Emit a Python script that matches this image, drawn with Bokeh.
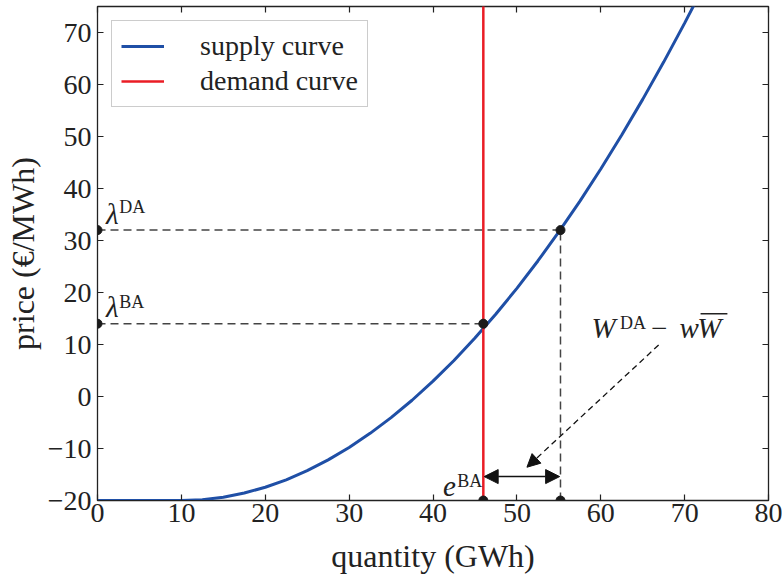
from bokeh.plotting import figure
from bokeh.models import (Range1d, LinearAxis, FixedTicker, Label, Arrow, NormalHead, Legend)
from bokeh.embed import file_html
from bokeh.resources import INLINE

# ---- data ----
supply_q = [0, 2.5, 5, 7.5, 10, 12.5, 15, 17.5, 20, 22.5, 25, 27.5, 30, 32.5, 35, 37.5,
            40, 42.5, 45, 47.5, 50, 52.5, 55, 57.5, 60, 62.5, 65, 67.5, 70, 72.5]
supply_p = [-20, -20, -20, -20, -20, -19.84, -19.36, -18.57, -17.45, -16.02, -14.26, -12.19,
            -9.8, -7.09, -4.06, -0.72, 2.95, 6.93, 11.24, 15.86, 20.8, 26.06, 31.64, 37.53,
            43.75, 50.28, 57.14, 64.31, 71.8, 79.6]
demand_q = [46.0, 46.0]
demand_p = [-25, 80]

q_BA = 46.0     # balancing quantity
q_DA = 55.2     # day-ahead quantity
lam_DA = 32.0   # day-ahead price
lam_BA = 14.0   # balancing price
p_min = -20.0

x_ticks = [0, 10, 20, 30, 40, 50, 60, 70, 80]
y_ticks = [-20, -10, 0, 10, 20, 30, 40, 50, 60, 70]

FONT = "Liberation Serif"
TXT = "#222222"

p = figure(width=782, height=576, output_backend="svg", toolbar_location=None,
           x_range=Range1d(0, 80), y_range=Range1d(-20, 75),
           min_border_left=97, min_border_right=14, min_border_top=6, min_border_bottom=76)
p.grid.visible = False
p.outline_line_color = "#222222"
p.outline_line_width = 1.3
p.background_fill_color = "white"
p.border_fill_color = "white"

for ax in (p.xaxis[0], p.yaxis[0]):
    ax.major_label_text_font = FONT
    ax.major_label_text_font_size = "28px"
    ax.major_label_text_color = TXT
    ax.axis_label_text_font = FONT
    ax.axis_label_text_font_size = "32px"
    ax.axis_label_text_font_style = "normal"
    ax.axis_label_text_color = TXT
    ax.major_tick_in = 6
    ax.major_tick_out = 0
    ax.minor_tick_line_color = None
    ax.axis_line_color = "#222222"
    ax.major_tick_line_color = "#222222"
    ax.major_tick_line_width = 1.2

p.xaxis[0].ticker = FixedTicker(ticks=x_ticks)
p.yaxis[0].ticker = FixedTicker(ticks=y_ticks)
p.xaxis[0].axis_label = "quantity (GWh)"
p.yaxis[0].axis_label = "price (€/MWh)"
p.xaxis[0].major_label_standoff = 3
p.xaxis[0].major_label_text_line_height = 0.9
p.xaxis[0].axis_label_text_line_height = 0.7
p.xaxis[0].axis_label_standoff = 13
p.yaxis[0].major_label_standoff = 6
p.yaxis[0].axis_label_standoff = 4

for loc, tk in (("right", y_ticks), ("above", x_ticks)):
    ax = LinearAxis(ticker=FixedTicker(ticks=tk))
    ax.major_label_overrides = {t: "" for t in tk}
    ax.major_label_text_font_size = "1px"
    ax.major_label_standoff = 0
    ax.major_tick_in = 6
    ax.major_tick_out = 0
    ax.minor_tick_line_color = None
    ax.axis_line_color = None
    ax.major_tick_line_color = "#222222"
    ax.major_tick_line_width = 1.2
    p.add_layout(ax, loc)

DASH = "#444444"
# dashed guides
p.line([0, q_DA], [lam_DA, lam_DA], line_dash="8 5", line_color=DASH, line_width=1.5)
p.line([0, q_BA], [lam_BA, lam_BA], line_dash="8 5", line_color=DASH, line_width=1.5)
p.line([q_DA, q_DA], [p_min, lam_DA], line_dash="8 5", line_color=DASH, line_width=1.5)

r_sup = p.line(supply_q, supply_p, line_color="#1f4fa6", line_width=3)
r_dem = p.line(demand_q, demand_p, line_color="#ea1d25", line_width=2.5)

p.scatter([q_BA, q_DA, 0, 0, q_BA, q_DA], [lam_BA, lam_DA, lam_DA, lam_BA, p_min, p_min],
          size=9, color="#1a1a1a")

# double arrow e^BA
p.add_layout(Arrow(start=NormalHead(size=14, fill_color="#111111", line_color="#111111"),
                   end=NormalHead(size=14, fill_color="#111111", line_color="#111111"),
                   x_start=q_BA + 0.1, y_start=-15.4, x_end=q_DA - 0.1, y_end=-15.4,
                   line_color="#111111", line_width=1.5))
# dashed pointer arrow
p.add_layout(Arrow(end=NormalHead(size=13, fill_color="#111111", line_color="#111111"),
                   x_start=66.9, y_start=9.9, x_end=51.2, y_end=-13.6,
                   line_color="#111111", line_width=1.3, line_dash="6 4"))


def lab(x, y, t, size, italic=False):
    p.add_layout(Label(x=x, y=y, text=t, text_font=FONT, text_font_size=size,
                       text_color=TXT, text_baseline="middle",
                       text_font_style="italic" if italic else "normal"))


lab(1.0, 35.1, "λ", "29px", True)
lab(2.6, 36.4, "DA", "18px")
lab(1.0, 17.2, "λ", "29px", True)
lab(2.6, 18.25, "BA", "18px")
lab(41.2, -17.3, "e", "29px", True)
lab(42.9, -16.2, "BA", "18px")
lab(58.9, 13.15, "W", "29px", True)
lab(62.3, 14.2, "DA", "18px")
lab(66.0, 13.15, "−", "29px")
lab(69.4, 13.15, "w", "29px", True)
lab(71.5, 13.15, "W", "29px", True)
p.segment(x0=[71.9], y0=[15.9], x1=[75.1], y1=[15.9], line_color=TXT, line_width=1.6)

legend = Legend(items=[("supply curve", [r_sup]), ("demand curve", [r_dem])],
                location="top_left")
legend.label_text_font = FONT
legend.label_text_font_size = "28px"
legend.label_text_color = TXT
legend.glyph_width = 43
legend.glyph_height = 22
legend.label_height = 22
legend.label_standoff = 36
legend.spacing = 3
legend.padding = 9
legend.margin = 14
legend.border_line_color = "#999999"
legend.border_line_width = 1.2
legend.background_fill_alpha = 1.0
p.add_layout(legend)

open("out.html", "w").write(file_html(p, INLINE))
